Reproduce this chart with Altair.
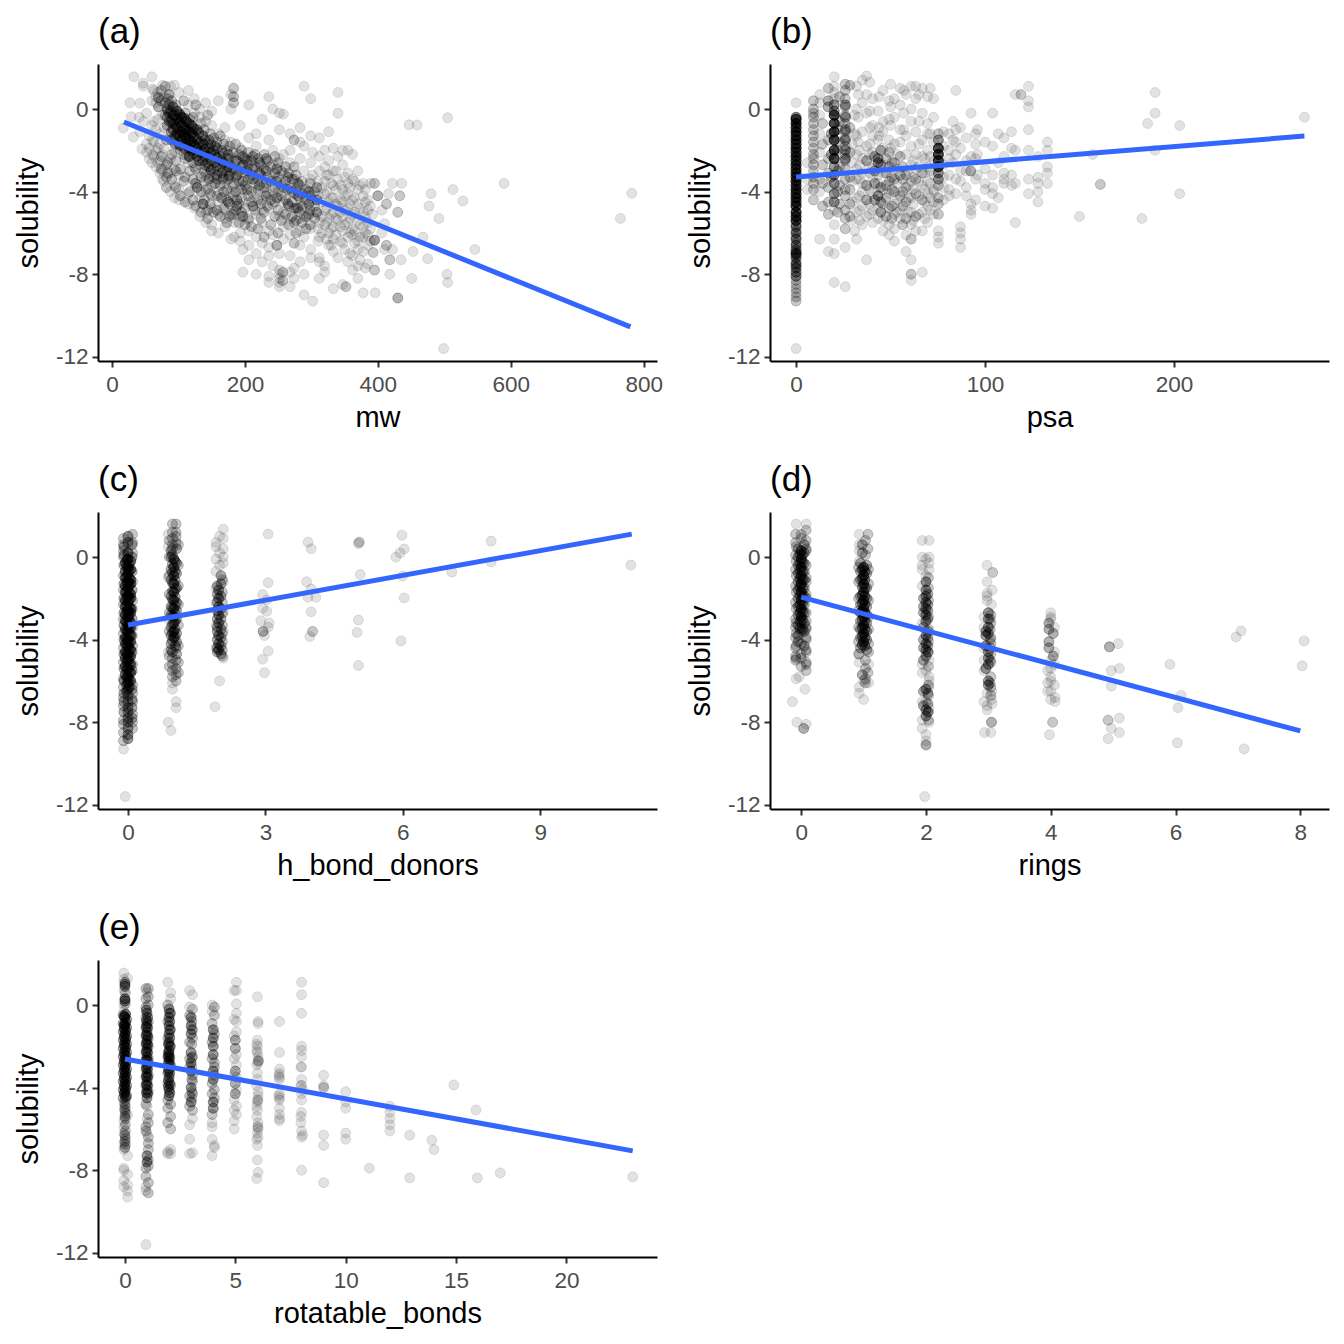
import altair as alt
import pandas as pd

# Every row below is (x value, times drawn, [solubility values]).
a_left = [
 (17,1,[-0.92]),(27,1,[0.3]),(29,1,[-0.37]),(32,1,[-1.36]),(33,1,[1.56]),(41,1,[-0.4]),(42,1,[0.28,-1.1]),(45,1,[-1.93]),(47,1,[1.25,1.1,-0.6]),
 (52,1,[-1.7,-2.1,-0.2]),(56,1,[-1.3,-1.9,-2.4]),(60,1,[1.56,0.4,-0.8,-2.6]),(61,1,[0.97,-1.5,-2.2]),(66,1,[0.6,0.3,-1.0,-2.8,-2.0]),
 (70,3,[0.55,0.1]),(72,1,[-1.7,-2.5,-3.1,-1.2]),(76,1,[1.15,-0.3,-2.2,-3.0,-3.4]),(80,2,[1.1,0.3,-0.3]),(82,2,[-1.5,-2.7,-3.3,-3.8]),
 (86,3,[0.7,0.2,-0.2,-0.6]),(88,1,[1.1,-1.3,-2.4,-3.1,-4.0]),(92,4,[0.1,-0.3,-0.7,-1.0]),(94,1,[1.15,-2.0,-2.9,-3.7,-4.3]),
 (98,5,[-0.1,-0.5,-0.9,-1.2]),(101,1,[0.8,-1.8,-3.2,-4.4,-3.9]),(105,5,[-0.4,-0.8,-1.1,-1.5]),(108,2,[0.4,-2.2,-3.5]),
 (112,5,[-0.6,-1.0,-1.4,-1.7]),(115,1,[0.9,0.2,-2.6,-4.1,-4.6]),(120,5,[-0.8,-1.2,-1.6,-2.0]),(124,1,[0.5,-0.2,-2.8,-3.6,-4.8]),
 (128,4,[-1.0,-1.5,-1.9,-2.3,-3.8]),(132,1,[0.0,-0.4,-2.7,-3.1,-4.3,-5.2]),(137,4,[-1.3,-1.7,-2.1,-2.5,-4.6]),(141,1,[0.3,-0.6,-3.2,-3.9,-5.0,-5.5]),
 (146,3,[-1.5,-1.9,-2.3,-2.8,-3.4]),(150,1,[-0.1,-0.8,-3.7,-4.2,-4.8,-5.6,-5.9]),(155,3,[-1.8,-2.2,-2.6,-3.6]),(160,1,[0.4,-1.2,-3.0,-4.0,-4.5,-5.1,-6.0]),
 (165,3,[-2.0,-2.5,-3.1,-4.3]),(170,1,[-0.9,-1.5,-3.6,-4.9,-5.3,-5.7]),(175,3,[-2.2,-2.8,-3.4,-4.5]),(179,1,[0.7,0.0,-1.6,-4.0,-5.1,-6.3]),
 (183,2,[1.0,0.6,0.3]),(184,1,[-2.4,-3.0,-3.6,-5.0,-5.5,-6.2]),(188,3,[-2.5,-3.2,-4.4,-4.7]),(193,1,[-0.8,-1.9,-3.8,-5.2,-6.0,-6.4]),
 (197,3,[-2.7,-2.3,-3.5,-5.2]),(197,1,[-6.8,-7.9]),(203,3,[-2.5,-3.0,-3.9]),(206,1,[0.2,-1.4,-4.5,-5.4,-5.9,-6.6,-7.3]),
]
a_ridge = [
 (83,3,[0.0,-0.4,-0.8]),(89,3,[-0.1,-0.6,-1.1,-1.5]),(95,3,[-0.3,-0.75,-1.3,-1.7]),(102,4,[-0.25,-0.65,-1.3,-1.75]),(109,4,[-0.45,-0.9,-1.25,-1.9]),
 (116,4,[-0.7,-1.1,-1.5,-1.9,-2.3]),(123,4,[-0.95,-1.35,-1.75,-2.15]),(131,4,[-1.15,-1.65,-2.1,-2.5]),(140,3,[-1.5,-1.95,-2.3,-2.7]),
 (149,3,[-1.7,-2.1,-2.5,-2.95]),(158,3,[-1.9,-2.35,-2.75,-3.2]),(167,2,[-2.15,-2.6,-3.0,-3.4]),(176,2,[-2.4,-2.85,-3.25]),
]
a_mid = [
 (212,3,[-2.3,-2.9,-3.4,-4.7]),(217,1,[-1.2,-1.8,-4.1,-5.1,-6.2,-7.0,-8.0]),(222,3,[-2.6,-3.1,-3.7]),(226,1,[-0.5,-4.4,-4.9,-5.5,-6.5,-7.4]),
 (232,3,[-2.4,-3.0,-3.6,-4.2]),(236,1,[0.6,-1.5,-4.8,-5.9,-6.7,-7.1,-8.1,-8.4]),(242,1,[0.0,-2.0,-2.7,-3.3,-4.0,-4.6,-6.1,-7.6]),
 (248,3,[-2.9,-3.5,-4.3,-6.6]),(252,1,[-0.2,-1.0,-2.4,-5.2,-7.0,-7.8,-8.0,-8.2,-8.4,-8.6]),(257,2,[-7.9,-8.3]),(258,1,[-0.25,-2.2,-3.1,-3.8,-4.5,-5.0,-5.7,-6.3]),
 (265,3,[-3.3,-3.9,-4.6]),(268,1,[-1.2,-2.0,-2.6,-5.3,-6.1,-7.1,-7.9,-8.6]),(274,2,[-1.5,-2.8,-3.4,-4.1,-4.8,-5.5,-6.5]),(274,1,[-7.7,-8.2]),
 (280,3,[-3.6,-4.2,-4.8]),(283,1,[-0.9,-1.6,-2.4,-5.3,-5.9,-6.6,-7.4]),(289,1,[1.1,-1.8,-3.0,-4.0,-4.6,-5.2,-6.2,-9.0,-8.0]),
 (296,3,[-4.0,-4.6,-5.1]),(299,1,[0.5,-1.3,-2.6,-3.4,-5.8,-6.8,-7.2]),(302,1,[-9.3,-4.4,-2.1,-3.2]),(308,3,[-3.8,-4.4,-5.0]),
 (312,1,[-1.4,-2.3,-3.0,-5.5,-6.2,-7.2,-7.4,-8.2]),(320,1,[-2.0,-2.8,-3.5,-4.1,-4.9,-5.6,-7.6,-7.9]),(326,1,[-1.1,-2.5,-3.2,-4.5,-5.3,-6.0,-6.6]),
 (333,1,[-1.9,-3.0,-3.7,-4.3,-5.0,-5.7,-6.3,-6.9,-8.7]),(340,1,[0.8,-0.2,-2.3,-3.4,-4.7,-5.4,-7.2]),(347,1,[-2.0,-2.7,-3.9,-4.5,-5.2,-5.9,-6.5,-8.5]),
 (352,2,[-8.6]),(355,1,[-2.0,-3.1,-3.6,-4.1,-4.8,-5.5,-6.2,-7.4]),(362,1,[-2.2,-3.4,-4.4,-5.1,-5.8,-6.1,-7.1,-7.8]),
 (370,1,[-3.0,-3.9,-4.6,-5.4,-6.4,-6.8,-7.6,-8.2]),(378,1,[-3.6,-4.2,-5.0,-5.7,-6.2,-6.9,-8.9]),(385,1,[-4.4,-4.9,-5.5,-6.1,-6.6,-7.5]),
]
a_fill = [
 (63,1,[0.9,-0.6,-1.6,-2.3]),(69,1,[0.8,-0.5,-1.9,-2.6]),(74,2,[0.9,0.4,-2.3,-2.9]),(78,1,[0.6,-0.9,-1.9,-3.5]),(84,2,[0.5,-0.1,-2.6,-3.1]),
 (90,2,[0.4,-0.5,-2.2,-3.4]),(96,2,[0.2,-1.4,-2.5,-3.0,-3.8]),(103,2,[-0.3,-1.3,-2.0,-2.9,-4.2]),(110,2,[-0.2,-1.2,-2.4,-3.3,-4.5]),(117,2,[-0.5,-1.5,-2.3,-3.0,-4.0]),
 (122,2,[-0.4,-1.1,-2.6,-3.4,-4.4]),(126,2,[0.2,-1.8,-2.9,-3.6,-4.7]),(134,2,[-0.7,-1.6,-3.3,-4.0,-5.0]),(139,2,[-1.0,-2.0,-3.0,-3.5,-4.4]),(144,2,[-0.3,-1.7,-2.6,-3.9,-4.9,-5.3]),
 (148,2,[-1.2,-2.2,-3.1,-4.1,-4.6]),(153,2,[-1.4,-2.0,-2.9,-3.3,-5.0]),(158,2,[-1.6,-2.4,-3.4,-4.2,-4.9]),(163,2,[-1.3,-2.3,-2.8,-3.7,-5.2]),(168,2,[-1.7,-2.6,-3.3,-4.0,-4.8]),
 (173,2,[-2.0,-2.4,-3.0,-3.9,-4.4,-5.5]),(177,2,[-1.8,-2.7,-3.2,-4.6,-5.2]),(182,2,[-2.1,-2.9,-3.7,-4.2,-5.1]),(186,2,[-1.7,-2.5,-3.3,-4.0,-4.9]),(191,2,[-2.2,-3.0,-3.5,-4.6,-5.5]),
 (195,2,[-2.0,-2.8,-3.9,-4.3,-5.0]),(200,2,[-2.4,-3.1,-3.7,-4.8,-5.6]),(205,2,[-2.1,-2.7,-3.4,-4.2,-5.3]),(210,2,[-2.5,-3.2,-4.0,-4.5,-5.7]),(215,2,[-2.2,-2.8,-3.6,-4.9]),
 (220,2,[-2.4,-3.4,-3.9,-4.4,-5.8]),(224,2,[-2.7,-3.2,-4.6,-5.3]),(229,2,[-2.2,-2.9,-3.8,-5.0,-6.2]),(234,2,[-2.5,-3.3,-4.1,-4.7]),(239,2,[-2.8,-3.5,-4.4,-5.6]),
 (245,2,[-2.3,-3.1,-3.8,-4.5,-5.2]),(250,2,[-2.6,-3.3,-4.0,-4.9,-6.0]),(255,2,[-3.0,-3.7,-4.2,-5.4]),(261,2,[-2.8,-3.5,-4.4,-5.1]),(266,2,[-3.1,-3.8,-4.7,-5.6]),
 (271,2,[-3.4,-4.0,-4.5,-5.2]),(277,2,[-3.2,-3.9,-4.8,-5.4,-6.0]),(282,2,[-3.7,-4.3,-5.0]),(286,2,[-3.5,-4.1,-4.7,-5.5]),(292,2,[-3.9,-4.4,-5.2,-5.8]),
 (298,2,[-3.6,-4.2,-4.9,-5.6]),(305,2,[-4.0,-4.7,-5.3]),(310,1,[-3.5,-4.2,-5.1,-5.8,-6.4]),(316,1,[-3.8,-4.5,-5.2,-6.0]),(323,1,[-3.2,-4.0,-4.8,-5.5,-6.3]),
 (330,1,[-3.6,-4.3,-5.1,-5.8,-6.6]),(337,1,[-3.0,-3.9,-4.6,-5.3,-6.1]),(344,1,[-3.7,-4.4,-5.0,-5.7,-6.4]),(350,1,[-3.3,-4.2,-4.9,-5.6,-6.8]),(358,1,[-3.8,-4.6,-5.3,-6.0,-7.0]),
 (365,1,[-3.5,-4.3,-5.0,-5.9,-6.5]),(373,1,[-3.7,-4.8,-5.6,-6.2,-7.3]),(381,1,[-3.9,-4.5,-5.2,-6.0,-7.7]),(389,1,[-3.6,-4.7,-5.8,-6.4]),
]
a_right = [
 (395,2,[-3.6,-7.8]),(400,3,[-4.2]),(416,1,[-4.1]),(433,2,[-4.2]),(413,2,[-4.6,-6.6]),(406,1,[-4.9,-6.0]),(430,2,[-5.0]),(392,1,[-5.1]),(410,1,[-5.55,-6.8]),
 (395,4,[-6.35]),(422,1,[-3.6,-6.8]),(393,2,[-6.95]),(418,2,[-7.3]),(436,1,[-3.6]),(480,1,[-4.1]),(477,1,[-4.7]),(492,1,[-5.3]),(513,1,[-3.9]),(528,1,[-4.45]),
 (546,1,[-6.8]),(468,1,[-6.2]),(453,1,[-6.9]),(475,1,[-7.25]),(435,1,[-7.3]),(451,1,[-8.2]),(504,1,[-8.0]),(505,1,[-8.4]),(418,1,[-8.0]),(430,3,[-9.15]),
 (396,1,[-8.9]),(499,1,[-11.6]),(505,1,[-0.42]),(447,1,[-0.76]),(459,1,[-0.77]),(590,1,[-3.6]),(782,1,[-4.08]),(765,1,[-5.3]),
]
b_col = [
 (0,1,[0.3,-11.6]),
 (0,10,[-0.7,-1.1,-1.5,-1.9,-2.3,-2.7,-3.1,-3.5,-3.9,-4.3,-4.7,-5.0,-5.4]),
 (0,9,[-0.5,-0.9,-1.3,-1.7,-2.1,-2.5,-2.9,-3.3,-3.7,-4.1,-4.5,-5.2,-7.0]),
 (0,5,[-0.4,-5.7,-6.0,-6.3,-6.6,-6.8,-7.2,-7.5,-7.7,-7.9,-8.1]),
 (0,2,[-5.6,-5.9,-6.2,-6.5,-6.9,-7.1,-7.4,-7.6,-8.3,-8.5,-8.7,-8.9,-9.1,-9.3]),
 (9.2,2,[0.4,0.0,-0.2,-0.4,-0.7,-1.0,-1.3,-1.6,-1.9,-2.2,-2.4,-2.7,-3.0,-3.3,-3.6,-3.9,-4.4]),
 (12.5,1,[0.7,0.3,-0.3,-1.2,-2.1,-3.4,-4.0,-6.3]),
 (17,3,[0.4,0.1]),(17.1,2,[1.0,-1.5,-2.4,-3.1,-3.8,-4.5,-5.1]),(17.1,1,[-6.9]),
 (20.2,10,[-0.3,-0.7,-1.1,-1.5,-2.0,-2.4]),
 (20.2,4,[0.2,-0.1,-2.8,-3.2,-3.6,-4.1,-4.5]),
 (20.2,1,[1.56,1.1,0.8,0.5,-4.9,-5.6,-6.3,-7.0,-8.4]),
 (26,2,[1.2,0.9,0.5,0.1,-0.3,-0.7,-1.1,-1.4,-1.8,-2.2,-2.5,-2.9,-3.4,-3.9,-4.2,-4.9,-5.3,-5.8]),(26,1,[-6.7,-8.6]),
 (26.1,4,[0.2,-0.4,-1.0,-1.5,-2.0,-2.4]),(28.5,2,[1.15,-0.9,-2.1,-3.3,-3.9,-4.6,-5.2]),
]
b_cloud = [
 (32,1,[1.1,0.0,-1.3,-2.2,-2.9,-3.4,-4.3,-5.0,-6.3]),(35,1,[1.4,0.3,-1.1,-2.4,-3.1,-3.6,-4.0,-4.7,-5.6]),(37.3,3,[-2.5,-3.7,-4.4]),(37.3,1,[1.6,0.7,-0.2,-1.8,-5.2,-7.3]),
 (40.5,1,[0.5,-0.8,-1.3,-2.1,-2.9,-3.3,-4.1,-4.9,-5.5]),(43.4,4,[-2.4,-2.6,-4.2]),(43.4,1,[-0.1,-1.5,-3.2,-3.6,-4.8,-5.3]),
 (46,1,[0.9,-0.6,-1.1,-1.9,-2.7,-3.1,-3.9,-4.6,-5.4,-5.9]),(49.3,2,[-2.1,-2.8,-3.5,-4.8]),(49.3,1,[0.4,-0.5,-1.5,-4.1,-5.6,-6.1]),
 (52,2,[-2.6,-3.4,-4.0]),(52,1,[0.5,-0.4,-1.7,-4.6,-5.1,-5.8,-6.4]),(55.1,2,[-2.3,-3.2,-4.2]),(55.1,1,[1.0,0.2,-1.0,-1.6,-4.9,-5.3]),
 (58.2,2,[-3.2,-3.8,-4.5,-5.3]),(58.2,1,[0.7,-1.3,-2.2,-6.1,-6.9]),(60.9,2,[-6.3,-8.0]),(60.9,1,[1.1,0.0,-0.6,-1.8,-2.7,-3.5,-4.3,-5.0,-5.6,-7.3,-8.3]),
 (63.3,2,[-3.4,-4.1,-5.2]),(63.3,1,[1.1,0.5,-1.1,-2.2,-2.9,-5.9]),(66.8,2,[-3.1,-4.4]),(66.8,1,[1.0,-0.2,-1.5,-2.3,-3.7,-5.0,-5.9,-7.9]),
 (69.6,1,[0.6,-0.7,-1.2,-2.0,-2.8,-3.5,-4.1,-4.7,-5.5]),(72.7,1,[0.5,-0.4,-1.6,-3.9,-4.5,-5.1]),
 (75.3,10,[-1.9,-2.2,-2.5,-2.8]),(75.3,4,[-1.5,-3.1,-3.4]),(75.3,2,[-1.2,-3.7,-4.3,-4.6,-5.1]),(75.3,1,[-5.9,-6.2,-6.5]),
 (78,1,[-1.1,-1.8,-2.7,-3.3,-3.8,-4.4]),(81,1,[-1.2,-2.0,-2.4,-3.2,-3.9,-4.2]),(84.5,1,[0.9,-1.0,-1.6,-2.2,-3.4,-4.1]),
 (87,1,[-0.9,-1.9,-3.0,-3.5,-5.7,-6.0,-6.3,-6.7]),(90,1,[-1.4,-2.5,-3.0,-3.8,-4.2]),(92.4,3,[-3.0]),(92.6,1,[-0.2,-2.3,-4.6,-4.9,-5.1]),
 (95,1,[-1.2,-1.7,-2.4,-3.4,-4.4]),(100,1,[-1.6,-2.9,-3.6,-3.9,-4.7]),(104,1,[-0.2,-1.8,-3.2,-3.8,-4.1,-4.8]),
 (110,1,[-1.4,-2.3,-3.1,-3.6,-3.4]),(114,1,[-1.1,-1.9,-3.2,-3.7]),(116,1,[0.7,-2.0,-3.6,-5.5]),(119,2,[0.7]),
 (123,1,[1.1,0.4,0.1,-1.0,-2.0,-3.4,-4.1]),(128,1,[-2.3,-3.3,-3.6,-4.0,-4.5]),(133,1,[-1.6,-2.0,-2.8,-3.1,-3.6]),
 (150,1,[-5.2]),(157,1,[-2.2]),(161,2,[-3.65]),(183,1,[-5.3]),(186,1,[-0.7]),(190,1,[0.8,-0.2,-2.0]),(203,1,[-0.8,-4.1]),(269,1,[-0.4]),
]
b_fill = [
 (6,1,[-3.9,-3.4,-2.6]),(14,2,[-0.7,-1.7,-2.7,-3.6,-4.7]),(23,2,[0.6,-0.6,-1.6,-2.8,-3.7,-4.6]),(29.7,1,[-1.7,-2.6,-3.5,-4.5,-5.4]),(31,1,[-0.3,-1.2,-5.9]),
 (33.6,1,[-2.0,-2.7,-3.4,-4.2,-4.9,-5.4]),(38.8,1,[-2.2,-2.8,-3.1,-3.9,-4.6,-5.1]),(41.6,3,[-2.3,-3.0,-3.6,-4.4]),(44.8,3,[-2.0,-2.7,-3.8,-4.5,-5.0]),
 (47.6,2,[-2.4,-3.1,-3.7,-4.3,-5.2]),(50.7,2,[-2.6,-3.3,-3.9,-4.7,-5.3]),(53.6,1,[-2.2,-2.9,-3.6,-4.4,-5.0]),(56.4,2,[-2.8,-3.4,-4.0,-4.7,-5.6]),
 (59.4,1,[-3.0,-3.7,-4.3,-5.0]),(62,1,[-2.5,-3.3,-3.9,-4.6,-5.4]),(64.9,1,[-2.8,-3.5,-4.2,-5.1]),(68,1,[-2.4,-3.1,-3.9,-4.5,-5.3]),(71,1,[-2.3,-3.0,-3.6,-4.3,-4.9]),
 (73,1,[-2.5,-3.2,-4.0]),(18.6,3,[-1.2,-2.2,-3.3]),(22,2,[-1.0,-2.0,-3.0,-4.0,-5.0]),
 (33,1,[0.7,-0.4,-1.6]),(39,1,[1.3,-0.1,-0.9,-1.7]),(44,1,[0.6,-0.9,-1.3]),(50,1,[1.2,0.1,-0.8,-1.9]),(57,1,[0.9,-0.2,-1.0]),(65,1,[0.7,-0.6,-1.7]),(71,1,[1.0,-1.2]),
 (83,1,[-0.6,-1.5,-2.6]),(96,1,[-1.0,-2.2,-3.2]),(107,1,[-1.2,-2.6,-4.3]),
]
c_rows = [
 (0.0,6,[0.2,-0.1,-0.5,-0.8,-1.2,-1.5,-1.9,-2.2,-2.6,-2.9,-3.3,-3.6,-4.0,-4.3,-4.7,-5.0,-5.4,-5.8,-6.1]),
 (-0.06,5,[-0.3,-0.7,-1.0,-1.4,-1.7,-2.1,-2.4,-2.8,-3.1,-3.5,-3.9,-4.2,-4.6,-4.9,-5.3,-5.7]),
 (0.06,5,[-0.2,-0.6,-1.1,-1.3,-1.8,-2.0,-2.5,-2.7,-3.2,-3.4,-3.8,-4.1,-4.5,-4.8,-5.2,-5.6,-6.0]),
 (0.03,4,[-0.35,-0.65,-1.05,-1.35,-1.75,-2.05,-2.45,-2.75,-3.05,-3.45,-3.75,-4.15,-4.45,-4.85,-5.15,-5.55,-5.95,-6.3]),
 (-0.03,4,[-0.15,-0.45,-0.95,-1.25,-1.65,-1.95,-2.35,-2.65,-3.15,-3.55,-3.95,-4.25,-4.65,-5.05,-5.45,-5.85,-6.2,-6.5]),
 (-0.09,3,[0.5,0.1,-0.4,-1.3,-2.0,-2.7,-3.3,-4.0,-4.7,-5.4,-6.0,-6.6,-7.0,-7.5]),
 (0.09,3,[0.6,0.0,-0.7,-1.6,-2.5,-3.0,-3.8,-4.6,-5.5,-6.4,-6.9,-7.3,-7.8]),
 (-0.1,2,[0.9,0.6,0.3,0.0,-0.9,-1.6,-2.3,-3.0,-3.7,-4.4,-5.1,-5.9,-6.3,-6.8,-7.2,-7.9,-8.1,-8.5,-8.9]),(-0.1,1,[-9.3]),
 (0.1,2,[1.1,0.7,0.2,-1.2,-2.1,-3.4,-4.3,-5.2,-6.2,-6.6,-7.0,-7.6,-8.0,-8.3]),
 (0.0,4,[1.0,0.7,-6.4,-6.7,-7.0,-7.3,-7.5,-7.8,-8.0,-8.3,-8.6,-8.8]),
 (-0.06,1,[-11.6]),
 (1.0,5,[-0.1,-0.5,-0.9,-1.3,-1.7,-2.1,-2.5,-2.9,-3.2,-3.6,-3.9]),
 (0.94,3,[0.3,0.0,-0.6,-1.1,-1.9,-2.4,-2.8,-3.4,-3.8,-4.2,-4.5]),
 (1.06,3,[0.4,-0.3,-0.8,-1.5,-2.2,-2.6,-3.0,-3.7,-4.1,-4.7]),
 (1.03,3,[-0.2,-0.7,-1.15,-1.55,-1.95,-2.35,-2.75,-3.1,-3.5,-3.85,-4.3]),
 (0.97,3,[0.1,-0.35,-0.75,-1.25,-1.65,-2.05,-2.45,-2.85,-3.25,-3.65,-4.05,-4.6]),
 (1.1,2,[0.6,-0.4,-1.4,-2.3,-3.3,-4.3,-5.1,-5.6]),(0.9,2,[0.8,0.0,-0.9,-1.8,-2.7,-3.6,-4.8,-5.3]),
 (0.97,2,[1.6,1.2,0.9,0.6,0.4,-4.9,-5.2,-5.5,-5.8]),(0.97,1,[-6.1,-6.4]),
 (1.05,2,[1.6,1.2,1.0,0.7,-4.4,-5.0,-5.4,-5.7,-6.0]),(1.05,1,[-7.0,-7.3]),
 (0.88,1,[1.1,0.5,-1.0,-3.0,-4.6,-8.0]),(0.94,1,[-8.4]),
 (1.98,4,[-1.6,-2.0,-2.4,-2.8,-3.2,-3.8,-4.2,-4.5]),
 (2.03,3,[-0.9,-1.3,-1.9,-2.5,-3.0,-3.5,-3.9,-4.3,-4.7]),
 (1.95,3,[-1.4,-1.8,-2.2,-2.6,-3.0,-3.4,-3.6,-4.0,-4.4,-4.6]),(2.06,2,[-1.1,-1.7,-2.2,-2.7,-3.3,-3.7,-4.1,-4.5,-4.8]),
 (1.92,1,[0.7,0.5,-0.1,-0.7,-1.5,-2.2,-3.3,-4.4]),
 (2.08,1,[1.35,0.9,0.4,0.0,-0.3,-1.2,-2.7,-3.6,-4.9]),
 (2.0,1,[1.0,0.2,-0.4,-6.0]),(1.9,1,[-7.25]),
 (3.06,1,[1.11,-1.24,-3.4,-4.56]),(2.94,1,[-1.82,-2.48,-4.95]),(3.03,1,[-2.08,-2.63]),(2.9,1,[-3.08]),(3.08,1,[-3.2]),(2.95,3,[-3.6]),(2.98,1,[-3.8,-5.6]),
 (3.93,1,[0.72,-1.95]),(4.0,1,[0.4,-1.55,-2.65]),(3.9,1,[-1.2]),(4.1,1,[-1.95]),(4.03,2,[-3.6]),(3.97,1,[-3.85]),
 (5.05,2,[0.72]),(5.03,1,[0.65,-3.05,-5.25]),(5.07,1,[-0.85]),(5.0,1,[-3.65]),
 (5.98,1,[1.06]),(6.03,1,[0.39,-1.98]),(5.94,1,[0.2]),(5.85,1,[0.0]),(6.0,1,[-0.92]),(5.96,1,[-4.06]),
 (7.93,1,[0.77,-0.24]),(7.07,1,[-0.73]),(10.98,1,[-0.39]),
]
d_rows = [
 (0.0,6,[0.3,-0.1,-0.5,-0.9,-1.3,-1.7,-2.1,-2.5,-2.9]),
 (-0.05,3,[0.4,0.0,-0.4,-0.8,-1.2,-1.6,-2.0,-2.4,-2.8,-3.3,-3.8,-4.1]),
 (0.05,3,[0.6,0.2,-0.3,-0.7,-1.1,-1.5,-1.9,-2.3,-2.7,-3.2,-3.6,-4.3]),
 (0.02,4,[0.1,-0.25,-0.7,-1.1,-1.5,-1.9,-2.25,-2.65,-3.05,-3.5]),(-0.02,4,[0.15,-0.3,-0.65,-1.05,-1.45,-1.85,-2.3,-2.7,-3.1,-3.45]),
 (-0.08,2,[0.5,-0.2,-0.9,-1.7,-2.5,-3.2,-3.7,-4.3,-4.9]),(0.08,2,[0.4,-0.4,-1.2,-2.0,-2.7,-3.4,-3.9,-4.5,-5.2]),
 (-0.09,2,[1.1,0.7,0.1,-0.6,-1.4,-2.2,-3.0,-3.4,-3.9,-4.4,-4.8,-5.0]),
 (0.08,2,[1.3,0.8,0.3,-1.0,-1.8,-3.1,-3.5,-4.0,-4.6,-5.1,-5.5]),(0.08,1,[1.6]),
 (0.0,2,[1.1,0.9,-3.2,-3.6,-4.2,-4.7,-4.9,-5.3]),
 (-0.08,1,[1.6,-5.9]),(-0.03,1,[-5.8]),(0.06,1,[-6.4]),(-0.14,1,[-7.0]),(-0.07,1,[-8.0]),(0.04,3,[-8.3]),(0.08,1,[-8.1]),
 (1.0,6,[-0.5,-0.9,-1.3,-1.7,-2.1,-2.5,-2.9,-3.3,-3.7,-4.1]),
 (0.95,3,[-0.3,-0.7,-1.1,-1.9,-2.3,-2.7,-3.1,-3.5,-3.9,-4.4]),
 (1.05,3,[-0.4,-0.8,-1.5,-2.0,-2.4,-2.8,-3.2,-3.6,-4.0,-4.5]),
 (1.02,4,[-0.7,-1.1,-1.5,-1.9,-2.3,-2.7,-3.1,-3.5,-3.9,-4.3]),(0.98,4,[-0.6,-1.05,-1.45,-1.85,-2.25,-2.65,-3.05,-3.45,-3.85,-4.25]),
 (1.08,2,[-0.6,-1.3,-2.1,-2.9,-3.5,-4.2,-4.6]),(0.92,2,[-0.5,-1.2,-2.0,-2.6,-3.4,-4.1,-4.7]),
 (0.93,1,[1.1,0.6,0.3,-0.2,-4.7,-5.1,-6.3,-6.6]),
 (1.07,2,[1.1,0.4,-5.6]),(1.03,2,[0.8,0.1,-5.0,-5.4,-5.9,-6.1]),
 (0.98,3,[0.6,0.2,-5.7]),(1.0,1,[-6.0,-6.9]),(1.08,1,[-5.2,-6.1]),
 (2.0,4,[-1.2,-1.6,-1.9,-2.2,-2.5,-2.8,-3.1,-3.8,-4.2,-4.5,-4.8,-6.4,-7.4,-7.7]),
 (1.96,3,[-2.0,-2.4,-2.7,-3.4,-4.0,-4.4,-5.0,-6.5,-7.2]),(2.03,3,[-1.8,-2.3,-2.6,-3.0,-3.6,-3.9,-4.3,-4.6,-6.6,-7.1,-7.5]),
 (2.04,2,[-1.0,-1.5,-2.1,-2.9,-3.5,-4.1,-4.6,-5.3,-6.2,-6.7,-7.5,-7.9]),
 (1.94,1,[0.8,0.0,-0.4,-0.6,-1.4,-3.2,-5.2,-5.6,-7.0,-7.9,-8.3]),
 (2.05,1,[0.8,0.0,-0.3,-0.6,-5.0,-5.8,-6.0,-6.3,-7.3,-8.0]),
 (2.0,1,[-0.1,-0.9,-5.5,-7.0,-8.6,-8.9]),(2.0,3,[-9.1]),(1.98,1,[-11.6]),
 (3.0,4,[-2.7,-3.0,-3.4,-3.7,-4.6,-4.9,-5.2,-6.0,-6.2]),
 (2.96,4,[-3.6,-3.8,-4.3,-5.4]),(3.03,2,[-3.0,-3.5,-4.0,-4.4,-5.0,-6.1]),
 (3.04,2,[-2.8,-3.2,-3.9,-4.2,-4.7,-5.1,-5.8,-6.3,-6.7]),
 (2.93,1,[-2.9,-3.4,-4.4,-5.0,-5.5,-7.0]),(3.05,1,[-2.3,-6.5,-6.9]),
 (2.98,1,[-0.4,-1.2,-1.75,-1.9,-2.1,-6.6,-7.2,-7.4]),(3.07,2,[-0.75]),(3.06,1,[-1.6,-7.1]),(2.94,1,[-8.5]),(3.05,3,[-8.0]),(3.04,1,[-8.5]),
 (3.97,3,[-3.2,-3.5,-4.1,-4.4]),(4.04,3,[-3.7,-4.8]),(4.06,1,[-3.4,-4.6,-5.2,-6.2]),
 (4.0,1,[-2.7,-2.9,-3.0,-5.0,-5.4,-5.8,-6.0,-6.5,-6.9]),(3.95,1,[-5.5,-6.1,-6.5]),(4.07,1,[-6.8,-7.0]),
 (4.03,2,[-8.0]),(3.98,1,[-8.6]),
 (4.94,3,[-4.35]),(5.08,1,[-4.2]),(4.97,1,[-5.5,-6.25,-8.3]),(5.1,1,[-5.4,-7.8,-8.5]),(4.92,2,[-7.9]),(4.92,1,[-8.8]),
 (5.91,1,[-5.2]),(6.09,1,[-6.7]),(6.04,1,[-7.3]),(6.03,1,[-9.0]),(6.97,1,[-3.87]),(7.05,1,[-3.58]),(7.1,1,[-9.29]),(8.06,1,[-4.06]),(8.03,1,[-5.27]),
]
e_rows = [
 (0.0,5,[0.3,0.2,-0.6,-1.0,-1.4,-1.8,-2.2,-2.6,-3.0,-3.4,-3.8,-4.2]),(0.0,4,[1.0,0.9]),
 (0.03,5,[-0.45,-0.85,-1.25,-1.65,-2.05,-2.45,-2.85,-3.25,-3.65,-4.05,-4.45]),(-0.03,5,[-0.55,-0.95,-1.15,-1.55,-1.95,-2.35,-2.75,-3.15,-3.55,-3.95,-4.3]),
 (-0.08,3,[-0.5,-0.9,-1.3,-1.7,-2.1,-2.5,-2.9,-3.3,-3.7,-4.1,-4.5]),
 (0.08,3,[-0.7,-1.1,-1.5,-1.9,-2.3,-2.7,-3.1,-3.5,-3.9,-4.4]),
 (0.02,2,[0.6,0.05,-4.6,-4.95,-5.25,-5.5,-5.8,-6.1,-6.45,-6.75]),
 (0.0,3,[1.1,-4.8,-5.1,-5.4,-6.3,-6.6,-6.9]),
 (-0.05,1,[1.55,1.25,0.7,0.0,-0.3,-4.7,-5.0,-5.6,-5.9,-6.2,-6.7,-7.0,-7.9,-8.0,-8.5,-8.8]),
 (0.12,1,[1.3,-5.3,-7.3,-8.2,-8.7,-9.0,-9.3]),
 (1.0,4,[-0.4,-0.9,-1.3,-1.7,-2.1,-2.5,-2.9,-3.3,-3.7,-4.1,-4.5,-7.3,-7.6]),
 (1.03,4,[-0.6,-1.1,-1.5,-1.9,-2.3,-2.7,-3.1,-3.5,-3.9,-4.3]),(0.97,4,[-0.25,-0.75,-1.05,-1.45,-1.85,-2.25,-2.65,-3.05,-3.45,-3.85,-4.25]),
 (0.95,2,[0.8,0.3,-0.1,-0.6,-1.1,-1.5,-1.9,-2.3,-2.7,-3.1,-3.5,-3.9,-4.8,-5.9,-6.1,-7.9,-8.3]),(0.95,1,[-8.8,-9.0]),
 (1.06,2,[0.8,0.4,0.0,-0.8,-1.6,-2.0,-2.6,-3.4,-4.2,-5.3,-5.7,-6.4,-6.7,-7.0,-7.5,-7.8,-8.6,-9.1]),
 (1.0,1,[0.6,-4.9,-5.5,-6.2]),(0.95,1,[-11.6]),
 (2.0,4,[-0.2,-0.6,-1.0,-1.4,-1.8,-2.2,-2.4,-2.7,-3.1,-3.5,-4.1,-4.4]),
 (2.03,4,[-0.4,-0.8,-1.2,-1.6,-2.0,-2.55,-2.9,-3.3,-3.8,-4.25]),(1.97,4,[-1.9,-2.3,-2.5,-2.8,-3.2,-3.65,-3.95]),
 (1.94,2,[0.0,-0.8,-1.6,-2.5,-3.3,-3.8,-4.6,-5.0,-5.7]),(1.94,1,[1.1,-7.1,-7.2]),
 (2.07,2,[-0.4,-1.2,-2.0,-2.9,-3.9,-4.8,-5.4,-6.0]),(2.07,1,[0.6,0.3,-7.0,-7.2]),
 (3.0,4,[-0.6,-1.0,-1.4,-2.3,-2.8,-3.2,-4.0,-4.7]),(3.03,2,[-0.8,-1.2,-1.9,-2.55,-3.0,-3.6,-4.2,-4.5]),(3.06,2,[-0.2,-1.2,-1.6,-2.5,-3.4,-3.7,-4.3,-5.1]),(3.06,1,[0.5,-5.5,-7.15]),
 (2.93,2,[-0.5,-1.8,-2.6,-3.0,-4.4,-4.9]),(2.93,1,[0.7,-0.1,-5.8,-6.5,-7.2]),
 (4.0,4,[-1.2,-1.6,-2.0,-2.4,-3.2,-3.6,-4.7,-5.0]),(4.05,2,[-0.1,-0.5,-1.4,-2.8,-3.0,-3.4,-4.1,-4.5]),(4.05,1,[-6.8,-6.9]),
 (3.95,2,[-0.9,-1.8,-2.6,-3.8,-4.3,-5.3]),(3.95,1,[0.0,-0.3,-5.7,-5.9,-6.5,-7.3]),
 (5.0,3,[-1.7,-2.1,-3.2,-3.8,-4.3]),(5.05,1,[1.1,0.7,0.05,-0.4,-0.8,-1.3,-2.4,-2.9,-3.5,-4.1,-4.9,-5.3]),
 (4.95,1,[0.7,-0.7,-1.5,-2.6,-3.4,-4.6,-5.1,-5.6,-6.0]),
 (6.0,1,[0.4,-1.7,-2.0,-2.3,-3.3,-3.6,-4.7,-5.1,-6.2,-6.8,-7.5]),(6.03,1,[-0.8,-0.9,-2.5,-2.7,-2.8,-4.2,-4.4,-5.7,-6.0,-6.4,-8.1]),
 (5.97,1,[-1.9,-2.2,-2.9,-3.9,-4.9,-5.4,-6.5,-8.4]),(6.05,2,[-2.7]),(6.02,2,[-5.9,-4.6]),
 (7.0,1,[-0.8,-2.3,-3.1,-3.3,-3.6,-3.5,-4.3,-4.6,-4.5,-5.0,-5.5,-5.6,-5.3]),(6.97,1,[-3.4,-4.4]),
 (8.0,1,[1.1,0.5,-0.4,-2.0,-2.2,-2.5,-3.0,-3.9,-3.6,-4.3,-4.6,-5.2,-6.1,-6.4,-8.0]),(7.97,1,[-3.0,-3.9,-5.4,-5.7]),(8.05,1,[-4.1,-6.3]),
 (9.0,1,[-3.4,-3.9,-4.0,-4.0,-6.3,-6.8,-8.6]),(10.0,1,[-4.2,-4.7,-5.0,-6.2,-6.5]),(11.07,1,[-7.9]),
 (12.0,1,[-4.9,-5.2,-5.5,-5.8,-6.1]),(12.9,1,[-6.3,-8.37]),(13.9,1,[-6.55]),(14.0,1,[-7.0]),(14.9,1,[-3.87]),(15.9,1,[-5.08]),(15.96,1,[-8.37]),(17.0,1,[-8.13]),(23.0,1,[-8.32]),
]

a_line_x, a_line_y = [18, 780], [-0.63, -10.55]
b_line_x, b_line_y = [0, 269], [-3.29, -1.31]
c_line_x, c_line_y = [0, 11], [-3.29, 1.11]
d_line_x, d_line_y = [0, 8], [-1.94, -8.42]
e_line_x, e_line_y = [0, 23], [-2.61, -7.06]

FONT = "Liberation Sans"
PW, PH = 559, 297
Y_DOM = [-12.2, 2.18]


def table(rows):
    out = []
    for x, n, ys in rows:
        for y in ys:
            out.extend([{"x": x, "y": y}] * n)
    return pd.DataFrame(out)


def panel(tag, name, rows, lx, ly, domain, ticks):
    xs = alt.X("x:Q", title=name, scale=alt.Scale(domain=domain, nice=False, zero=False),
               axis=alt.Axis(values=ticks, format="d", grid=False, labelPadding=6, titlePadding=8))
    ys = alt.Y("y:Q", title="solubility", scale=alt.Scale(domain=Y_DOM, nice=False, zero=False),
               axis=alt.Axis(values=[0, -4, -8, -12], labelExpr="'' + datum.value", grid=False, titlePadding=12))
    pts = alt.Chart(table(rows)).mark_circle(size=100, color="black", fillOpacity=0.115, stroke="black",
                                             strokeOpacity=0.1, strokeWidth=1, opacity=1).encode(x=xs, y=ys)
    line = alt.Chart(pd.DataFrame({"x": lx, "y": ly})).mark_line(color="#3366FF", strokeWidth=5, strokeCap="butt").encode(x=xs, y=ys)
    return (pts + line).properties(width=PW, height=PH, title=alt.TitleParams(tag, anchor="start", frame="group"))


panels = [
    panel("(a)", "mw", a_left + a_ridge + a_mid + a_fill + a_right, a_line_x, a_line_y, [-21, 820], [0, 200, 400, 600, 800]),
    panel("(b)", "psa", b_col + b_cloud + b_fill, b_line_x, b_line_y, [-13.8, 282], [0, 100, 200]),
    panel("(c)", "h_bond_donors", c_rows, c_line_x, c_line_y, [-0.655, 11.55], [0, 3, 6, 9]),
    panel("(d)", "rings", d_rows, d_line_x, d_line_y, [-0.5, 8.46], [0, 2, 4, 6, 8]),
    panel("(e)", "rotatable_bonds", e_rows, e_line_x, e_line_y, [-1.22, 24.1], [0, 5, 10, 15, 20]),
]

chart = alt.concat(*panels, columns=2, spacing={"row": 30, "column": 23}).configure_view(stroke=None).configure_axis(
    labelFont=FONT, titleFont=FONT, labelFontSize=22.5, titleFontSize=29, labelColor="#4d4d4d", titleColor="black",
    titleFontWeight="normal", domainColor="black", domainWidth=2, tickColor="#333333", tickWidth=2, tickSize=6, labelPadding=4,
).configure_title(font=FONT, fontSize=35, fontWeight="normal", color="black", offset=14).properties(
    padding={"left": 6, "top": 7, "right": 1, "bottom": 1}, background="white")

chart.save("out.html", embed_options={"renderer": "svg", "actions": False})
